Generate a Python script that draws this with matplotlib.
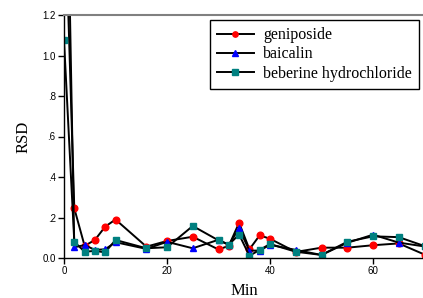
import matplotlib
matplotlib.use("Agg")
import matplotlib.pyplot as plt

time = [0, 2, 4, 6, 8, 10, 16, 20, 25, 30, 32, 34, 36, 38, 40, 45, 50, 55, 60, 65, 70]
geniposide = [1.9, 0.245, 0.06, 0.089, 0.155, 0.19, 0.056, 0.084, 0.105, 0.042, 0.06, 0.174, 0.043, 0.112, 0.095, 0.03, 0.051, 0.051, 0.063, 0.072, 0.017]
baicalin = [2.8, 0.053, 0.064, 0.04, 0.043, 0.078, 0.045, 0.08, 0.048, 0.09, 0.065, 0.146, 0.036, 0.037, 0.065, 0.04, 0.015, 0.075, 0.115, 0.076, 0.057]
beberine = [1.075, 0.08, 0.031, 0.035, 0.028, 0.089, 0.048, 0.053, 0.158, 0.087, 0.066, 0.116, 0.011, 0.04, 0.069, 0.031, 0.015, 0.08, 0.107, 0.103, 0.059]

series = [
    ("geniposide", geniposide, "o", "#ff0000"),
    ("baicalin", baicalin, "^", "#0000ff"),
    ("beberine hydrochloride", beberine, "s", "#008080"),
]

yticks = [0.0, 0.2, 0.4, 0.6, 0.8, 1.0, 1.2]
ytick_labels = ["0.0", ".2", ".4", ".6", ".8", "1.0", "1.2"]
xticks = [0, 20, 40, 60]

fig = plt.figure(figsize=(4.23, 2.98), dpi=100)
ax = fig.add_axes([64/423, 40/298, 360.5/423, 243/298])

for name, vals, mk, col in series:
    ax.plot(time, vals, color="black", lw=1.4, marker=mk, markersize=4.8,
            markerfacecolor=col, markeredgecolor=col, label=name, clip_on=True)

ax.set_xlim(0, 70)
ax.set_ylim(0, 1.2)
ax.set_yticks(yticks)
ax.set_yticklabels(ytick_labels)
ax.set_xticks(xticks)
for lab in ax.get_xticklabels() + ax.get_yticklabels():
    lab.set_fontfamily("Liberation Sans")
    lab.set_fontsize(7)
ax.tick_params(direction="out", length=4, width=1, pad=2)

ax.spines["right"].set_visible(False)
ax.spines["top"].set_color("#808080")
ax.spines["top"].set_linewidth(1.5)
ax.spines["left"].set_linewidth(1)
ax.spines["bottom"].set_linewidth(1)

ax.set_ylabel("RSD", fontfamily="Liberation Serif", fontsize=12, labelpad=8)
ax.set_xlabel("Min", fontfamily="Liberation Serif", fontsize=12, labelpad=5)

handles, labels = ax.get_legend_handles_labels()
leg = ax.legend(handles, labels, loc="upper right", bbox_to_anchor=(0.985, 0.979),
                borderaxespad=0, prop={"family": "Liberation Serif", "size": 11.5},
                fancybox=False, edgecolor="black", framealpha=1, markerscale=0.8,
                handlelength=2.3, handletextpad=0.6, labelspacing=0.2,
                borderpad=0.45)
leg.get_frame().set_linewidth(1)

fig.savefig("out.png", dpi=100)
